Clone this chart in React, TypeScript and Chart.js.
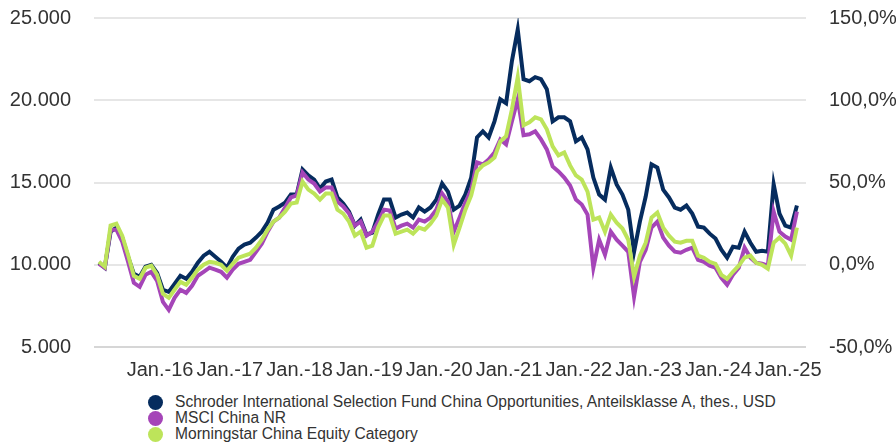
import React, { useEffect, useRef } from "react";
import { Chart, registerables } from "chart.js";

Chart.register(...registerables);

// Monthly observations (mid-month), Feb 2015 – Feb 2025
const months: string[] = [
  "2015-02", "2015-03", "2015-04", "2015-05", "2015-06", "2015-07", "2015-08", "2015-09", "2015-10", "2015-11", "2015-12",
  "2016-01", "2016-02", "2016-03", "2016-04", "2016-05", "2016-06", "2016-07", "2016-08", "2016-09", "2016-10", "2016-11", "2016-12",
  "2017-01", "2017-02", "2017-03", "2017-04", "2017-05", "2017-06", "2017-07", "2017-08", "2017-09", "2017-10", "2017-11", "2017-12",
  "2018-01", "2018-02", "2018-03", "2018-04", "2018-05", "2018-06", "2018-07", "2018-08", "2018-09", "2018-10", "2018-11", "2018-12",
  "2019-01", "2019-02", "2019-03", "2019-04", "2019-05", "2019-06", "2019-07", "2019-08", "2019-09", "2019-10", "2019-11", "2019-12",
  "2020-01", "2020-02", "2020-03", "2020-04", "2020-05", "2020-06", "2020-07", "2020-08", "2020-09", "2020-10", "2020-11", "2020-12",
  "2021-01", "2021-02", "2021-03", "2021-04", "2021-05", "2021-06", "2021-07", "2021-08", "2021-09", "2021-10", "2021-11", "2021-12",
  "2022-01", "2022-02", "2022-03", "2022-04", "2022-05", "2022-06", "2022-07", "2022-08", "2022-09", "2022-10", "2022-11", "2022-12",
  "2023-01", "2023-02", "2023-03", "2023-04", "2023-05", "2023-06", "2023-07", "2023-08", "2023-09", "2023-10", "2023-11", "2023-12",
  "2024-01", "2024-02", "2024-03", "2024-04", "2024-05", "2024-06", "2024-07", "2024-08", "2024-09", "2024-10", "2024-11", "2024-12",
  "2025-01", "2025-02",
];

// Growth of 10.000 (USD)
const fundValues: number[] = [
  10120, 9820, 12010, 12260, 11650, 10490, 9450, 9270, 9880, 10000, 9510,
  8480, 8350, 8840, 9330, 9150, 9570, 10120, 10550, 10790, 10490, 10180, 9820,
  10490, 10980, 11220, 11340, 11650, 12010, 12560, 13350, 13540, 13780, 14270, 14270,
  15790, 15430, 15180, 14630, 15060, 15180, 14090, 13720, 13230, 12380, 12740, 11830,
  11950, 13050, 13960, 13960, 12870, 13050, 13170, 12870, 13480, 13230, 13480, 13960,
  14940, 14450, 13350, 13600, 14270, 15300, 17740, 18110, 17740, 18720, 20060, 19820,
  22380, 24300, 21280, 21160, 21400, 21280, 20670, 18720, 18960, 18960, 18720, 17500,
  17740, 17010, 15300, 14270, 13960, 15910, 14880, 14270, 13350, 10790, 12620, 14150,
  16100, 15910, 14570, 14090, 13480, 13350, 13600, 13110, 12320, 12260, 11890, 11590,
  10910, 10430, 11100, 11040, 12010, 11340, 10790, 10850, 10790, 14900, 13110, 12380,
  12260, 13600,
];

const msciValues: number[] = [
  10060, 9820, 12130, 12130, 11400, 10180, 8900, 8660, 9390, 9570, 9020,
  7740, 7260, 7990, 8480, 8290, 8720, 9330, 9570, 9820, 9700, 9570, 9210,
  9700, 10060, 10180, 10300, 10790, 11280, 12010, 12620, 12870, 13480, 14090, 14210,
  15610, 15180, 14940, 14450, 14700, 14700, 13840, 13540, 13110, 12380, 12620, 11770,
  12010, 12620, 13350, 13290, 12200, 12380, 12500, 12260, 12740, 12620, 12870, 13350,
  14330, 13840, 12010, 12870, 13780, 14570, 16220, 16100, 16400, 16830, 17620, 17320,
  18720, 20060, 17870, 17930, 18110, 17620, 17010, 15980, 15670, 15300, 14820, 13960,
  13660, 13050, 9820, 11520, 10610, 12010, 11520, 11160, 10790, 8050, 10180, 10910,
  12260, 12620, 11650, 11160, 10790, 10730, 10910, 11040, 10300, 10180, 9940, 9820,
  9210, 8780, 9390, 9820, 11040, 10430, 10120, 10060, 9940, 13230, 12010, 11710,
  11520, 13230,
];

const categoryValues: number[] = [
  10180, 9880, 12380, 12500, 11770, 10610, 9330, 9150, 9820, 9940, 9390,
  8230, 7990, 8480, 8960, 8780, 9210, 9700, 10000, 10180, 10120, 10000, 9630,
  10060, 10430, 10550, 10670, 11040, 11520, 12130, 12620, 12870, 13230, 13720, 13780,
  15060, 14570, 14330, 13960, 14330, 14330, 13350, 13110, 12620, 11770, 12010, 11040,
  11160, 12260, 12990, 12990, 11890, 12010, 12130, 11890, 12260, 12130, 12500, 12990,
  13960, 13480, 11220, 12260, 13350, 14210, 15670, 16040, 16220, 16520, 17500, 17810,
  19450, 21400, 18480, 18660, 18960, 18840, 18230, 17200, 16650, 16830, 16040, 15430,
  15180, 14450, 12740, 12870, 12010, 13050, 12560, 12200, 11520, 9270, 10550, 11340,
  12870, 13170, 12260, 11770, 11400, 11340, 11460, 11460, 10550, 10430, 10180, 10060,
  9390, 9150, 9570, 9940, 10430, 10550, 10120, 10000, 9760, 11340, 11650, 11280,
  10550, 12260,
];

const seriesNames: string[] = [
  "Schroder International Selection Fund China Opportunities, Anteilsklasse A, thes., USD",
  "MSCI China NR",
  "Morningstar China Equity Category",
];
const seriesColors: string[] = ["#062c5e", "#a545b8", "#bde45a"];

const tickYears: number[] = [2016, 2017, 2018, 2019, 2020, 2021, 2022, 2023, 2024, 2025];
const tickLabels: string[] = ["Jan.-16", "Jan.-17", "Jan.-18", "Jan.-19", "Jan.-20", "Jan.-21", "Jan.-22", "Jan.-23", "Jan.-24", "Jan.-25"];

const monthToYear = (m: string) => {
  const [y, mo] = m.split("-").map(Number);
  return y + (mo - 0.5) / 12;
};

const fmtThousands = (v: number) => String(Math.round(v)).replace(/\B(?=(\d{3})+(?!\d))/g, ".");
const fmtPct = (v: number) => v.toFixed(1).replace(".", ",") + "%";

const FONT = "'Liberation Sans', Arial, sans-serif";
const CANVAS_W = 896;
const CANVAS_H = 383;

export default function App() {
  const canvasRef = useRef<HTMLCanvasElement | null>(null);

  useEffect(() => {
    document.body.style.margin = "0";
    const ctx = canvasRef.current;
    if (!ctx) return;
    const all = [fundValues, msciValues, categoryValues];
    const chart = new Chart(ctx, {
      type: "line",
      data: {
        datasets: all.map((vals, i) => ({
          label: seriesNames[i],
          data: vals.map((v, j) => ({ x: monthToYear(months[j]), y: v })),
          borderColor: seriesColors[i],
          backgroundColor: seriesColors[i],
          borderWidth: 4,
          pointRadius: 0,
          tension: 0,
          fill: false,
          yAxisID: "y",
          order: 2 - i,
        })),
      },
      options: {
        animation: false,
        responsive: true,
        maintainAspectRatio: false,
        layout: { padding: { top: 18, left: 0, right: 0, bottom: 0 } },
        plugins: {
          legend: { display: false },
          tooltip: { enabled: false },
        },
        scales: {
          x: {
            type: "linear",
            min: 2015.054,
            max: 2025.255,
            grid: { display: false, drawTicks: false },
            border: { display: false },
            afterBuildTicks: (scale: any) => {
              scale.ticks = tickYears.map((v) => ({ value: v }));
            },
            afterFit: (scale: any) => {
              scale.height = 36;
              scale.paddingLeft = 0;
              scale.paddingRight = 0;
            },
            ticks: {
              autoSkip: false,
              maxRotation: 0,
              padding: 11,
              color: "#333",
              font: { family: FONT, size: 20 },
              callback: (v: any) => {
                const idx = tickYears.indexOf(Number(v));
                return idx >= 0 ? tickLabels[idx] : "";
              },
            },
          },
          y: {
            type: "linear",
            position: "left",
            min: 5000,
            max: 25000,
            border: { display: false },
            afterFit: (scale: any) => {
              scale.width = 94;
              scale.paddingTop = 0;
              scale.paddingBottom = 0;
            },
            grid: {
              drawTicks: false,
              lineWidth: 2,
              color: (c: any) => (c.tick && c.tick.value === 5000 ? "#d6d6d6" : "#e6e6e6"),
            },
            ticks: {
              stepSize: 5000,
              padding: 23,
              color: "#333",
              font: { family: FONT, size: 20 },
              callback: (v: any) => fmtThousands(Number(v)),
            },
          },
          y1: {
            type: "linear",
            position: "right",
            min: -50,
            max: 150,
            border: { display: false },
            afterFit: (scale: any) => {
              scale.width = 90;
              scale.paddingTop = 0;
              scale.paddingBottom = 0;
            },
            grid: { display: false, drawTicks: false },
            ticks: {
              stepSize: 50,
              padding: 23,
              color: "#333",
              font: { family: FONT, size: 20 },
              callback: (v: any) => fmtPct(Number(v)),
            },
          },
        },
      },
    } as any);
    return () => chart.destroy();
  }, []);

  return (
    <div style={{ position: "relative", width: 896, height: 442, fontFamily: FONT }}>
      <div style={{ position: "absolute", left: 0, top: 0, width: CANVAS_W, height: CANVAS_H }}>
        <canvas ref={canvasRef} />
      </div>
      <div style={{ position: "absolute", left: 148, top: 394 }}>
        {seriesNames.map((name, i) => (
          <div key={name} style={{ display: "flex", alignItems: "center", height: 16, fontSize: 15.6, color: "#333", whiteSpace: "nowrap" }}>
            <span
              style={{
                display: "inline-block",
                width: 15,
                height: 15,
                borderRadius: "50%",
                background: seriesColors[i],
                marginRight: 12,
                flex: "0 0 auto",
              }}
            />
            <span>{name}</span>
          </div>
        ))}
      </div>
    </div>
  );
}
